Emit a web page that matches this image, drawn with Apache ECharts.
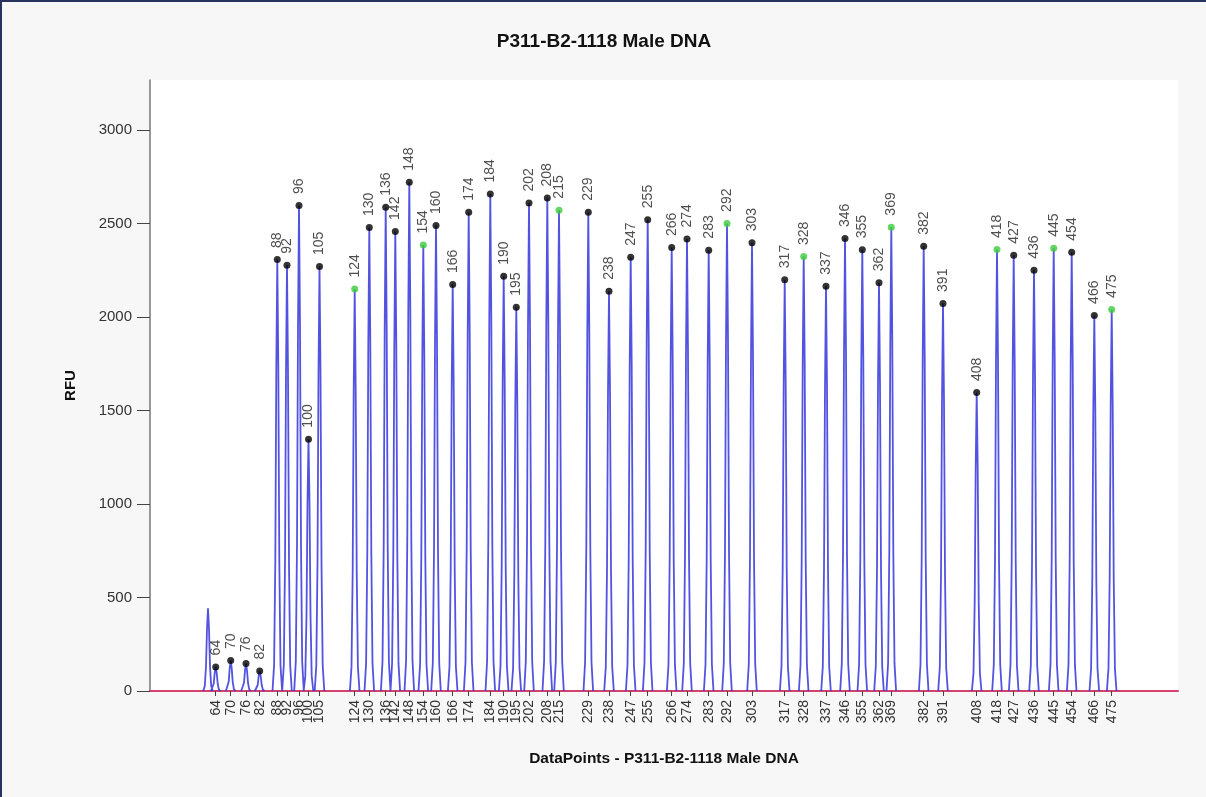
<!DOCTYPE html>
<html>
<head>
<meta charset="utf-8">
<script src="https://cdn.jsdelivr.net/npm/echarts@6/dist/echarts.min.js"></script>
<style>
html,body{margin:0;padding:0;background:#f7f7f7;}
#wrap{position:absolute;left:0;top:0;width:1204px;height:795px;border-top:2px solid #27325e;border-left:2px solid #27325e;}
#chart{width:1204px;height:795px;}
</style>
</head>
<body>
<div id="wrap"><div id="chart"></div></div>
<script>
// Peak sizes (bp labels)
const sizes = [64,70,76,82,88,92,96,100,105,124,130,136,142,148,154,160,166,174,184,190,195,202,208,215,229,238,247,255,266,274,283,292,303,317,328,337,346,355,362,369,382,391,408,418,427,436,445,454,466,475];
// Peak positions in data points
const positions = [657,807,960,1097,1273,1370,1490,1585,1695,2047,2193,2357,2453,2593,2733,2860,3027,3187,3403,3537,3663,3790,3973,4090,4383,4590,4807,4977,5217,5370,5587,5770,6020,6347,6537,6760,6950,7123,7290,7413,7737,7930,8267,8470,8637,8840,9037,9217,9443,9617];
// Peak heights (RFU)
const heights = [129,163,147,107,2308,2277,2597,1347,2270,2150,2479,2587,2458,2721,2385,2490,2174,2560,2658,2218,2052,2610,2637,2572,2560,2138,2320,2521,2372,2417,2358,2501,2397,2200,2324,2165,2420,2360,2184,2481,2379,2073,1596,2361,2331,2250,2368,2347,2009,2041];
// Sizes marked in green
const greenSizes = [124,154,215,292,328,369,418,445,475];
// Unlabelled primer peak
const primerPosition = [580];
const primerHeight = [442];
const yTicks = [0,500,1000,1500,2000,2500,3000];

// peak shape template (offset in data points, fraction of height)
const shape = [[-48,0],[-32,0.06],[-20,0.3],[-10,0.75],[0,1],[10,0.75],[20,0.3],[32,0.06],[48,0]];
const allPos = primerPosition.concat(positions);
const allH = primerHeight.concat(heights);
const trace = [];
allPos.forEach((p,i)=>{
  shape.forEach(s=>trace.push([p+s[0], allH[i]*s[1]]));
  trace.push([p+49, null]);
});
const labelOf = {};
positions.forEach((p,i)=>labelOf[p]=String(sizes[i]));
const marks = positions.map((p,i)=>({
  value:[p,heights[i]],
  name:String(sizes[i]),
  itemStyle:{color: greenSizes.includes(sizes[i]) ? '#3ccc3c' : '#000'}
}));

const chart = echarts.init(document.getElementById('chart'));
chart.setOption({
  backgroundColor:'#f7f7f7',
  animation:false,
  textStyle:{fontFamily:'Arial, "Liberation Sans", sans-serif'},
  title:{text:'P311-B2-1118 Male DNA',left:'center',top:30,padding:0,
    textStyle:{fontSize:19,fontWeight:'bold',color:'#111',fontFamily:'Arial, "Liberation Sans", sans-serif'}},
  grid:{left:148,right:28,top:78,bottom:106,show:true,backgroundColor:'#fff',borderWidth:0,containLabel:false},
  xAxis:{type:'value',min:0,max:10280,
    name:'DataPoints - P311-B2-1118 Male DNA',nameLocation:'middle',nameGap:60,
    nameTextStyle:{fontSize:15.5,fontWeight:'bold',color:'#111'},
    axisLine:{onZero:true,lineStyle:{color:'#d6426e',width:2}},
    axisTick:{show:true,length:5,customValues:positions,lineStyle:{color:'#444'}},
    axisLabel:{customValues:positions,rotate:90,margin:9,fontSize:14,color:'#333',
      formatter:v=>labelOf[v]||''},
    splitLine:{show:false}},
  yAxis:{type:'value',min:0,max:3268,
    name:'RFU',nameLocation:'middle',nameGap:72,nameRotate:90,
    nameTextStyle:{fontSize:15,fontWeight:'bold',color:'#111'},
    axisLine:{show:true,lineStyle:{color:'#777',width:1.5}},
    axisTick:{show:true,length:13,customValues:yTicks,lineStyle:{color:'#444'}},
    axisLabel:{customValues:yTicks,margin:18,fontSize:15,color:'#333',formatter:v=>String(v)},
    splitLine:{show:false}},
  series:[
    {type:'line',data:trace,showSymbol:false,symbol:'none',connectNulls:false,
     lineStyle:{color:'#3535dc',width:1.8,opacity:0.85},z:2},
    {type:'scatter',data:marks,symbolSize:7,z:3,
     label:{show:true,position:'top',distance:8,rotate:90,align:'left',verticalAlign:'middle',
       fontSize:14,color:'#222',formatter:p=>p.name}}
  ]
});
</script>
</body>
</html>
